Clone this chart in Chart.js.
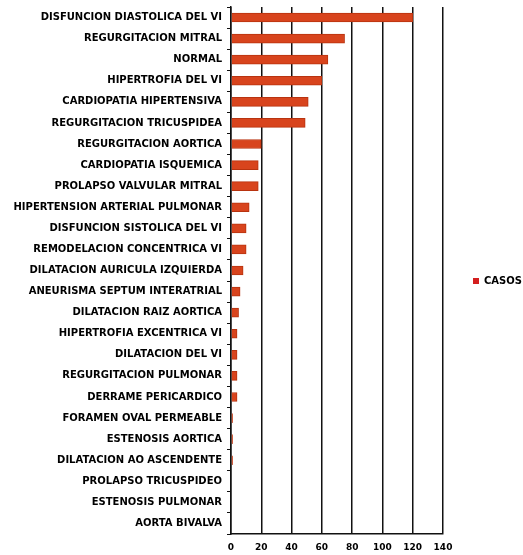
<!DOCTYPE html>
<html>
<head>
<meta charset="utf-8">
<script src="https://cdn.jsdelivr.net/npm/chart.js@4"></script>
<style>
  html, body { margin: 0; padding: 0; background: #fff; }
  #wrap { width: 523px; height: 555px; }
</style>
</head>
<body>
<div id="wrap"><canvas id="casosChart" width="523" height="555"></canvas></div>
<script>
const diagnosticos = [
  'DISFUNCION DIASTOLICA DEL VI',
  'REGURGITACION MITRAL',
  'NORMAL',
  'HIPERTROFIA DEL VI',
  'CARDIOPATIA HIPERTENSIVA',
  'REGURGITACION TRICUSPIDEA',
  'REGURGITACION AORTICA',
  'CARDIOPATIA ISQUEMICA',
  'PROLAPSO VALVULAR MITRAL',
  'HIPERTENSION ARTERIAL PULMONAR',
  'DISFUNCION SISTOLICA DEL VI',
  'REMODELACION CONCENTRICA VI',
  'DILATACION AURICULA IZQUIERDA',
  'ANEURISMA SEPTUM INTERATRIAL',
  'DILATACION RAIZ AORTICA',
  'HIPERTROFIA EXCENTRICA VI',
  'DILATACION DEL VI',
  'REGURGITACION PULMONAR',
  'DERRAME PERICARDICO',
  'FORAMEN OVAL PERMEABLE',
  'ESTENOSIS AORTICA',
  'DILATACION AO ASCENDENTE',
  'PROLAPSO TRICUSPIDEO',
  'ESTENOSIS PULMONAR',
  'AORTA BIVALVA'
];

const casos = [120, 75, 64, 60, 51, 49, 20, 18, 18, 12, 10, 10, 8, 6, 5, 4, 4, 4, 4, 1, 1, 1, 0, 0, 0];

const xTicks = [0, 20, 40, 60, 80, 100, 120, 140];

const family = '"DejaVu Sans", sans-serif';
const labelFont = { family, size: 10, weight: 'bold' };
const tickFont = { family, size: 9, weight: 'bold' };

// keep the legend column narrow while its items sit well right of the plot
const legendWidth = {
  id: 'legendWidth',
  afterInit(chart) {
    const legend = chart.legend;
    const fit = legend.fit.bind(legend);
    legend.fit = () => {
      fit();
      legend.width = 80;
    };
  },
};

const ctx = document.getElementById('casosChart').getContext('2d');
new Chart(ctx, {
  type: 'bar',
  data: {
    labels: diagnosticos,
    datasets: [{
      label: 'CASOS',
      data: casos,
      backgroundColor: '#d8441d',
      borderColor: '#b8330f',
      borderWidth: 1,
      barThickness: 9,
    }],
  },
  options: {
    indexAxis: 'y',
    responsive: false,
    animation: false,
    layout: { padding: { top: 7, right: 0, bottom: 0, left: 0 } },
    scales: {
      x: {
        min: 0,
        max: 140,
        afterBuildTicks: (scale) => {
          scale.ticks = xTicks.map(v => ({ value: v }));
        },
        afterFit: (scale) => { scale.height = 21; },
        grid: {
          color: '#111',
          lineWidth: 1.5,
          drawTicks: false,
        },
        border: { color: '#111', width: 1.5 },
        ticks: { color: '#000', font: tickFont, padding: 8, maxRotation: 0 },
      },
      y: {
        afterFit: (scale) => {
          scale.width = 231;
          scale.paddingTop = 0;
          scale.paddingBottom = 0;
        },
        grid: {
          drawOnChartArea: false,
          color: '#111',
          tickLength: 4,
          lineWidth: 1,
        },
        border: { color: '#111', width: 1.5 },
        ticks: { color: '#000', font: labelFont, padding: 5, autoSkip: false },
      },
    },
    plugins: {
      legend: {
        display: true,
        position: 'right',
        labels: {
          color: '#000',
          font: labelFont,
          boxWidth: 6,
          boxHeight: 6,
          padding: 30,
          generateLabels: (chart) => [{
            text: 'CASOS',
            fillStyle: '#d41f1f',
            strokeStyle: '#d41f1f',
            lineWidth: 0,
            datasetIndex: 0,
          }],
        },
      },
      tooltip: { enabled: false },
    },
  },
  plugins: [legendWidth],
});
</script>
</body>
</html>
